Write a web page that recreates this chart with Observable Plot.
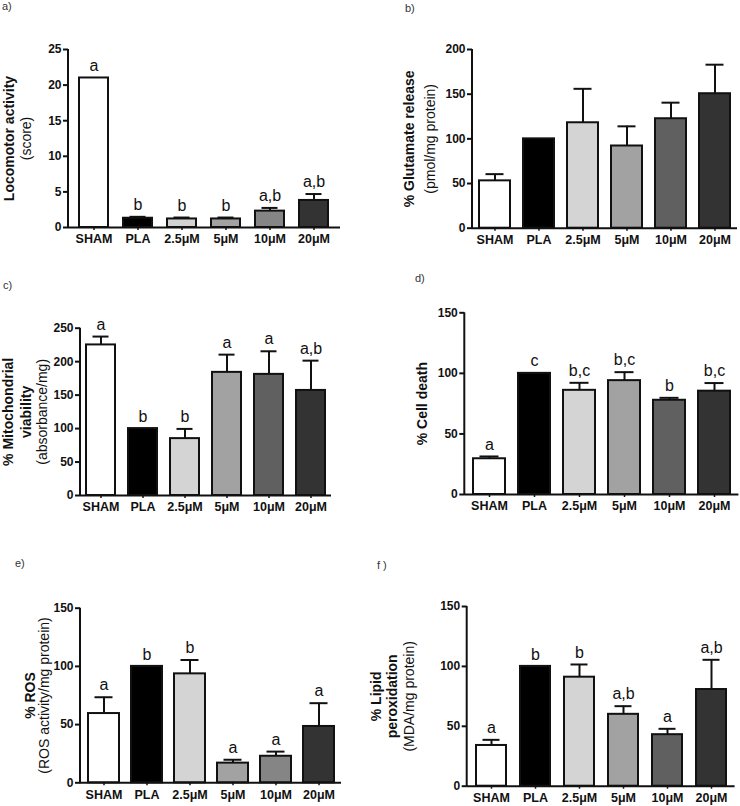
<!DOCTYPE html>
<html>
<head>
<meta charset="utf-8">
<script src="https://cdn.jsdelivr.net/npm/d3@7"></script>
<script src="https://cdn.jsdelivr.net/npm/@observablehq/plot@0.6"></script>
<style>
  body { margin: 0; background: white; }
  #wrap { position: relative; width: 740px; height: 806px; font-family: "Liberation Sans", Arial, sans-serif; }
  .pl { position: absolute; font-size: 11px; color: #333; }
  .panel { position: absolute; }
</style>
</head>
<body>
<div id="wrap"></div>
<script>
const FONT = "Liberation Sans, Arial, sans-serif";

// categories
const groups = ["SHAM", "PLA", "2.5μM", "5μM", "10μM", "20μM"];

// a) Locomotor activity
const locoValues = [21, 1.3, 1.2, 1.2, 2.3, 3.8];
const locoErrors = [null, 1.5, 1.4, 1.4, 2.75, 4.7];
const locoLetters = ["a", "b", "b", "b", "a,b", "a,b"];
const locoTicks = [0, 5, 10, 15, 20, 25];

// b) Glutamate release
const gluValues = [53, 100, 118, 92, 122.5, 150.5];
const gluErrors = [60.5, null, 156, 114, 140.5, 183];
const gluLetters = ["", "", "", "", "", ""];
const gluTicks = [0, 50, 100, 150, 200];

// c) Mitochondrial viability
const mitoValues = [225, 100, 85, 184, 181, 157];
const mitoErrors = [237.5, null, 99.5, 210.5, 215.5, 201.5];
const mitoLetters = ["a", "b", "b", "a", "a", "a,b"];
const mitoTicks = [0, 50, 100, 150, 200, 250];

// d) Cell death
const deathValues = [29.5, 100, 86, 94, 77.8, 85.3];
const deathErrors = [31.4, null, 92.2, 101, 79.8, 92];
const deathLetters = ["a", "c", "b,c", "b,c", "b", "b,c"];
const deathTicks = [0, 50, 100, 150];

// e) ROS
const rosValues = [59.5, 100, 93.6, 16.9, 22.8, 48.4];
const rosErrors = [73.5, null, 105.5, 19.8, 26.8, 68.4];
const rosLetters = ["a", "b", "b", "a", "a", "a"];
const rosTicks = [0, 50, 100, 150];

// f) Lipid peroxidation
const lipidValues = [34, 100, 91, 60, 43, 80.7];
const lipidErrors = [38.7, null, 101.6, 66.8, 47.9, 105.5];
const lipidLetters = ["a", "b", "b", "a,b", "a", "a,b"];
const lipidTicks = [0, 50, 100, 150];

// bar fills
const fillsA = ["white", "black", "#d2d2d2", "#a2a2a2", "#858585", "#333333"];
const fillsB = ["white", "black", "#d4d4d4", "#a2a2a2", "#606060", "#333333"];
const fillsE = ["white", "black", "#d4d4d4", "#a2a2a2", "#858585", "#333333"];

const panels = [
  {tag: "a)", tagPos: [2, 0], left: 0, top: 0, width: 350, height: 255,
   mL: 68, mR: 10, mT: 49, mB: 28, pi: 0.333, po: 0.19,
   values: locoValues, errors: locoErrors, letters: locoLetters, ticks: locoTicks, ymax: 25, fills: fillsA,
   labels: [["Locomotor activity", "bold", -58.5], ["(score)", "normal", -42]]},
  {tag: "b)", tagPos: [405, 2], left: 370, top: 0, width: 370, height: 255,
   mL: 102, mR: 3, mT: 49, mB: 27.3, pi: 0.3, po: 0.11,
   values: gluValues, errors: gluErrors, letters: gluLetters, ticks: gluTicks, ymax: 200, fills: fillsB,
   labels: [["% Glutamate release", "bold", -63], ["(pmol/mg protein)", "normal", -42]]},
  {tag: "c)", tagPos: [3, 279], left: 0, top: 260, width: 350, height: 262,
   mL: 80, mR: 19, mT: 67.7, mB: 27, pi: 0.32, po: 0.14,
   values: mitoValues, errors: mitoErrors, letters: mitoLetters, ticks: mitoTicks, ymax: 250, fills: fillsB,
   labels: [["% Mitochondrial", "bold", -72.3], ["viability", "bold", -53.5], ["(absorbance/mg)", "normal", -37.5]]},
  {tag: "d)", tagPos: [415, 272], left: 370, top: 260, width: 370, height: 262,
   mL: 94.3, mR: 1.6, mT: 52.3, mB: 28, pi: 0.29, po: 0.17,
   values: deathValues, errors: deathErrors, letters: deathLetters, ticks: deathTicks, ymax: 150, fills: fillsB,
   labels: [["% Cell death", "bold", -42.7]]},
  {tag: "e)", tagPos: [15, 557], left: 0, top: 520, width: 350, height: 286,
   mL: 80, mR: 9, mT: 87.7, mB: 23.7, pi: 0.29, po: 0.137,
   values: rosValues, errors: rosErrors, letters: rosLetters, ticks: rosTicks, ymax: 150, fills: fillsE,
   labels: [["% ROS", "bold", -49.5], ["(ROS activity/mg protein)", "normal", -36]]},
  {tag: "f )", tagPos: [377, 559], left: 370, top: 520, width: 370, height: 286,
   mL: 96.7, mR: 5.4, mT: 86, mB: 20.3, pi: 0.32, po: 0.14,
   values: lipidValues, errors: lipidErrors, letters: lipidLetters, ticks: lipidTicks, ymax: 150, fills: fillsB,
   labels: [["% Lipid", "bold", -91], ["peroxidation", "bold", -74.5], ["(MDA/mg protein)", "normal", -57.7]]}
];

const wrap = document.getElementById("wrap");

for (const cfg of panels) {
  const data = groups.map((g, i) => ({
    group: g, value: cfg.values[i], err: cfg.errors[i], letter: cfg.letters[i], fill: cfg.fills[i]
  }));
  const withErr = data.filter(d => d.err != null);
  const labelMarks = cfg.labels.map(([t, w, dx]) =>
    Plot.text([t], {frameAnchor: "left", text: d => d, rotate: -90, dx, fontSize: 14,
      textAnchor: "middle", lineAnchor: "middle", fontWeight: w, fill: "#111"}));
  const plot = Plot.plot({
    width: cfg.width, height: cfg.height,
    marginLeft: cfg.mL, marginRight: cfg.mR, marginTop: cfg.mT, marginBottom: cfg.mB,
    style: {fontFamily: FONT, fontSize: "12px", fontWeight: "bold", background: "transparent", overflow: "visible", color: "#111"},
    x: {type: "band", domain: groups, paddingInner: cfg.pi, paddingOuter: cfg.po, label: null},
    y: {domain: [0, cfg.ymax], label: null},
    color: {type: "identity"},
    marks: [
      Plot.barY(data, {x: "group", y: "value", fill: "fill", stroke: "#111", strokeWidth: 2}),
      Plot.ruleX(withErr, {x: "group", y1: "value", y2: "err", stroke: "#111", strokeWidth: 2}),
      Plot.tickY(withErr, {x: "group", y: "err", stroke: "#111", strokeWidth: 2, insetLeft: 6.5, insetRight: 6.5}),
      Plot.text(data, {x: "group", y: d => d.err ?? d.value, text: "letter", dy: -12,
        fontSize: 16, fontWeight: "normal", fill: "#111"}),
      Plot.ruleY([0], {stroke: "#111", strokeWidth: 2}),
      Plot.axisY({ticks: cfg.ticks, tickSize: 5, tickPadding: 2, strokeWidth: 2, fontSize: 12, label: null, fill: "#111"}),
      Plot.axisX({tickSize: 3, tickPadding: 4, strokeWidth: 1.5, fontSize: 12.5, label: null, fill: "#111"}),
      ...labelMarks
    ]
  });
  // vertical y-axis line along the frame's left edge
  const ys = plot.scale("y").range;
  d3.select(plot).append("line")
    .attr("x1", cfg.mL).attr("x2", cfg.mL)
    .attr("y1", ys[0] + 1).attr("y2", ys[1])
    .attr("stroke", "#111").attr("stroke-width", 2);
  const holder = document.createElement("div");
  holder.className = "panel";
  holder.style.left = cfg.left + "px";
  holder.style.top = cfg.top + "px";
  holder.appendChild(plot);
  wrap.appendChild(holder);

  const tag = document.createElement("div");
  tag.className = "pl";
  tag.textContent = cfg.tag;
  tag.style.left = cfg.tagPos[0] + "px";
  tag.style.top = cfg.tagPos[1] + "px";
  wrap.appendChild(tag);
}
</script>
</body>
</html>
